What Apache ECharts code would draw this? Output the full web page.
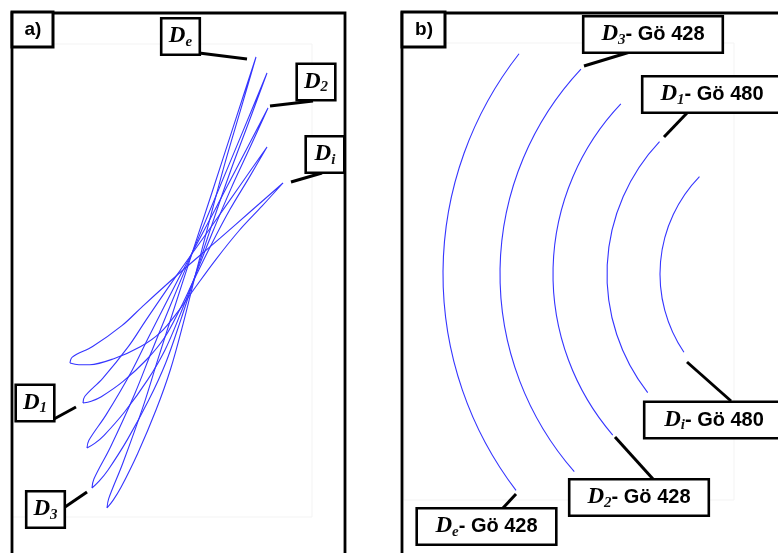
<!DOCTYPE html>
<html>
<head>
<meta charset="utf-8">
<script src="https://cdn.jsdelivr.net/npm/echarts@6/dist/echarts.min.js"></script>
<style>
html,body{margin:0;padding:0;background:#fff;}
#chart{width:778px;height:553px;}
</style>
</head>
<body>
<div id="chart"></div>
<script>
// ---------- Panel a: hysteresis-like loops (x, y in plot units) ----------
const loopDe = [[95,9],[96.7,18.4],[110.8,53.8],[131.6,111.9],[145.8,157.3],[170.4,234.2],[200,324.5],[221.9,392.2],[244,460],[229.4,409.8],[213.3,355.1],[197.2,295.3],[182.9,240],[171.3,193.9],[158.6,148],[144.3,107.7],[125.8,63.8],[108.9,29.4],[101.2,16.9],[95,9]];
const loopD3 = [[80,29],[81.9,38],[98.5,70.1],[122.8,123.3],[139.5,165.2],[168.5,236.1],[203.2,319.2],[229.2,381.6],[255,444],[237.8,397.5],[218.8,346.8],[199.6,291.4],[182.7,239.9],[168.7,196.9],[153.8,154.3],[137,117.4],[115.5,77.6],[95.9,46.7],[87.1,35.8],[80,29]];
const loopD2 = [[75,69],[76.9,76.7],[94.2,102.4],[119.5,145.6],[136.7,180.1],[166.6,238.4],[202.6,306.5],[229.3,357.8],[256,409],[238.4,370.4],[219,328.4],[199.4,282],[182.3,238.7],[168.2,202.6],[153,167.1],[135.6,137.1],[112.9,105.5],[92.1,81.7],[82.7,73.6],[75,69]];
const loopD1 = [[71,114],[72.7,120.5],[90.7,138.7],[116.5,170.6],[134,196.9],[164.3,241.1],[200.8,292.5],[227.9,331.3],[255,370],[237.4,339.9],[217.9,307.4],[198.5,270.8],[181.6,236.4],[167.8,207.5],[152.6,179.5],[134.7,157.5],[111.1,135.6],[89.3,120.3],[79.2,115.8],[71,114]];
const loopDi = [[58,154],[60.3,159.9],[80.6,170.5],[110.2,191.6],[130.6,210.7],[165.8,242.5],[208.1,278.9],[239.6,306.5],[271,334],[250.2,311.1],[227.2,286.5],[204,257.7],[183.6,230],[166.9,206.7],[148.8,184.9],[128.3,170.2],[101.8,158.3],[77.7,152.3],[66.8,152.2],[58,154]];
const loopSeriesNames = ['De', 'D3', 'D2', 'D1', 'Di'];
const panelALabels = ['{d|D}{s|e}', '{d|D}{s|2}', '{d|D}{s|i}', '{d|D}{s|1}', '{d|D}{s|3}'];

// ---------- Panel b: concentric arcs (radius, angle of top end, angle of bottom end in degrees) ----------
const arcNames = ['De - Gö 428', 'D3 - Gö 428', 'D2 - Gö 428', 'D1 - Gö 480', 'Di - Gö 480'];
const arcRadius = [357, 300, 247, 193, 140];
const arcTopAngle = [141.9, 136.9, 136.5, 136.7, 135.9];
const arcBottomAngle = [217.3, 221.2, 220.7, 217.9, 214.0];
const panelBLabels = ['{d|D}{s|3}{t|- Gö 428}', '{d|D}{s|1}{t|- Gö 480}', '{d|D}{s|i}{t|- Gö 480}', '{d|D}{s|2}{t|- Gö 428}', '{d|D}{s|e}{t|- Gö 428}'];

// ---------- annotation layout (plot units of each panel) ----------
const annA = {
  box: [[168.5,480.5],[304,435],[313,362.5],[23,114],[33.5,7.5]],
  leader: [[[187,464],[235,458]],[[258,411],[301,416]],[[279,335],[310,344]],[[42,98],[64,110]],[[53,10],[75,25]]]
};
const annB = {
  box: [[249,465.5],[308,405.5],[310,80],[235,2.5],[82.5,-26.5]],
  leader: [[[180,434],[226,448]],[[260,363],[283,387]],[[283,138],[327,99]],[[211,63],[249,21]],[[112,6],[99,-8]]]
};

const BLUE = '#3535ff';
const rich = {
  d: {fontFamily: 'Liberation Serif', fontStyle: 'italic', fontWeight: 'bold', fontSize: 23, color: '#000', lineHeight: 26, verticalAlign: 'middle', opacity: 1},
  s: {fontFamily: 'Liberation Serif', fontStyle: 'italic', fontWeight: 'bold', fontSize: 15, color: '#111', lineHeight: 14, verticalAlign: 'bottom', opacity: 1},
  t: {fontFamily: 'Liberation Sans', fontWeight: 'bold', fontSize: 20, color: '#000', lineHeight: 26, verticalAlign: 'middle', opacity: 1}
};

const chart = echarts.init(document.getElementById('chart'), null, {renderer: 'canvas'});

const loops = [loopDe, loopD3, loopD2, loopD1, loopDi];
const series = [];
loops.forEach((d, i) => {
  series.push({
    type: 'line', name: loopSeriesNames[i], xAxisIndex: 0, yAxisIndex: 0,
    data: d, showSymbol: false, symbol: 'none', smooth: 0.35, clip: false,
    lineStyle: {color: BLUE, width: 1.1}, z: 2
  });
});

series.push({
  type: 'custom', name: 'arcs', coordinateSystem: 'polar', polarIndex: 0,
  data: arcRadius.map((r, i) => [r, arcTopAngle[i], arcBottomAngle[i]]),
  renderItem: function (params, api) {
    const r = api.value(0), a1 = api.value(1), a2 = api.value(2);
    const c = api.coord([0, 0]);
    const p1 = api.coord([r, a1]);
    const p2 = api.coord([r, a2]);
    const rp = Math.hypot(p1[0] - c[0], p1[1] - c[1]);
    let s = Math.atan2(p2[1] - c[1], p2[0] - c[0]);
    let e = Math.atan2(p1[1] - c[1], p1[0] - c[0]);
    while (e < s) e += 2 * Math.PI;
    return {
      type: 'arc',
      shape: {cx: c[0], cy: c[1], r: rp, startAngle: s, endAngle: e, clockwise: true},
      style: {stroke: BLUE, fill: null, lineWidth: 1.1}
    };
  },
  z: 2
});

function addAnnotations(ann, labels, gi, w) {
  series.push({
    type: 'lines', coordinateSystem: 'cartesian2d', xAxisIndex: gi, yAxisIndex: gi, clip: false,
    data: ann.leader.map(c => ({coords: c})),
    lineStyle: {color: '#000', width: 3, opacity: 1, curveness: 0}, z: 4
  });
  series.push({
    type: 'scatter', xAxisIndex: gi, yAxisIndex: gi, clip: false, symbolSize: 0,
    itemStyle: {opacity: 1, color: '#000'},
    data: ann.box.map((p, i) => ({value: p, label: {formatter: labels[i]}})),
    label: {
      show: true, position: 'inside', rich: rich, width: w, align: 'center', opacity: 1,
      color: '#000', textBorderWidth: 0,
      borderColor: '#000', borderWidth: 2.6, backgroundColor: '#fff', padding: [4, 3, 4, 3]
    },
    emphasis: {disabled: true},
    z: 5, silent: true
  });
}
addAnnotations(annA, panelALabels, 0, 30);
addAnnotations(annB, panelBLabels, 1, 131);

const option = {
  animation: false,
  backgroundColor: '#fff',
  grid: [
    {left: 12, top: 44, width: 300, height: 473, show: true, borderColor: '#f3f3f3', borderWidth: 1},
    {left: 404, top: 43, width: 330, height: 457, show: true, borderColor: '#f3f3f3', borderWidth: 1}
  ],
  xAxis: [
    {type: 'value', gridIndex: 0, min: 0, max: 300, show: false},
    {type: 'value', gridIndex: 1, min: 0, max: 330, show: false}
  ],
  yAxis: [
    {type: 'value', gridIndex: 0, min: 0, max: 473, show: false},
    {type: 'value', gridIndex: 1, min: 0, max: 457, show: false}
  ],
  polar: {center: [800, 274], radius: 357},
  radiusAxis: {type: 'value', min: 0, max: 357, show: false},
  angleAxis: {type: 'value', min: 0, max: 360, startAngle: 0, clockwise: false, show: false},
  graphic: [
    {type: 'rect', shape: {x: 12, y: 13, width: 333, height: 570}, style: {stroke: '#000', fill: null, lineWidth: 2.8}, z: 10},
    {type: 'rect', shape: {x: 402, y: 13, width: 420, height: 570}, style: {stroke: '#000', fill: null, lineWidth: 2.8}, z: 10},
    {type: 'rect', shape: {x: 12, y: 12, width: 41, height: 35}, style: {stroke: '#000', fill: '#fff', lineWidth: 3}, z: 11},
    {type: 'text', x: 33, y: 30, style: {text: 'a)', font: 'bold 19px "Liberation Sans"', fill: '#000', textAlign: 'center', textVerticalAlign: 'middle'}, z: 12},
    {type: 'rect', shape: {x: 402, y: 12, width: 43, height: 35}, style: {stroke: '#000', fill: '#fff', lineWidth: 3}, z: 11},
    {type: 'text', x: 424, y: 30, style: {text: 'b)', font: 'bold 19px "Liberation Sans"', fill: '#000', textAlign: 'center', textVerticalAlign: 'middle'}, z: 12}
  ],
  series: series
};
chart.setOption(option);
</script>
</body>
</html>
